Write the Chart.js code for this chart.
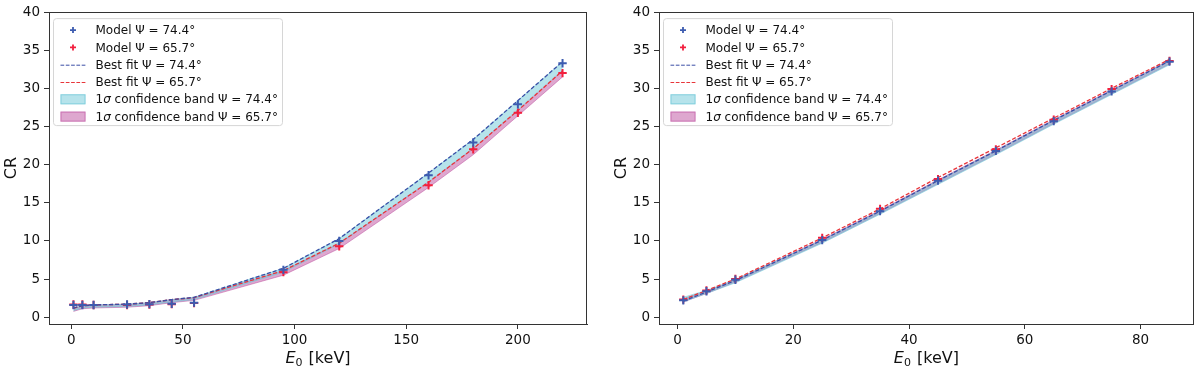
<!DOCTYPE html>
<html>
<head>
<meta charset="utf-8">
<script src="https://cdn.jsdelivr.net/npm/chart.js@4.4.0/dist/chart.umd.min.js"></script>
<style>
  body { margin: 0; background: #fff; }
  .wrap { display: flex; width: 1200px; height: 370px; }
  .panel { position: relative; width: 600px; height: 370px; }
</style>
</head>
<body>
<div class="wrap">
  <div class="panel"><canvas id="leftChart"></canvas></div>
  <div class="panel"><canvas id="rightChart"></canvas></div>
</div>
<script>
// ---- data: left panel ----
const energyLeft = [1, 5, 10, 25, 35, 45, 55, 95, 120, 160, 180, 200, 220];
const modelBlueLeft = [1.6, 1.6, 1.6, 1.65, 1.7, 1.75, 1.9, 6.2, 10.0, 18.6, 22.9, 27.9, 33.3];
const modelRedLeft = [1.65, 1.65, 1.6, 1.6, 1.65, 1.7, 1.85, 5.9, 9.3, 17.3, 22.0, 26.8, 32.0];
const fitBlueLeft = [1.2, 1.5, 1.6, 1.7, 1.9, 2.3, 2.6, 6.4, 10.3, 18.9, 23.3, 28.4, 33.5];
const fitRedLeft = [1.15, 1.5, 1.6, 1.7, 1.9, 2.3, 2.55, 6.1, 9.7, 17.7, 22.1, 27.1, 32.3];
const bandBlueLowLeft = [0.85, 1.2, 1.3, 1.4, 1.6, 2.0, 2.3, 5.9, 9.6, 17.8, 22.1, 27.2, 32.4];
const bandBlueHighLeft = [1.2, 1.5, 1.6, 1.7, 1.9, 2.3, 2.6, 6.4, 10.3, 18.9, 23.3, 28.4, 33.5];
const bandRedLowLeft = [0.75, 1.1, 1.2, 1.3, 1.5, 1.9, 2.2, 5.5, 9.0, 17.0, 21.3, 26.4, 31.5];
const bandRedHighLeft = [1.15, 1.5, 1.6, 1.7, 1.9, 2.3, 2.55, 6.1, 9.7, 17.7, 22.1, 27.1, 32.3];

// ---- data: right panel ----
const energyRight = [1, 5, 10, 25, 35, 45, 55, 65, 75, 85];
const modelBlueRight = [2.2, 3.4, 4.9, 10.1, 13.9, 17.9, 21.8, 25.7, 29.6, 33.5];
const modelRedRight = [2.3, 3.5, 5.0, 10.4, 14.2, 18.1, 22.0, 25.9, 29.9, 33.6];
const fitBlueRight = [2.1, 3.3, 4.8, 10.1, 13.9, 17.9, 21.8, 25.8, 29.7, 33.6];
const fitRedRight = [2.3, 3.5, 5.0, 10.4, 14.2, 18.3, 22.2, 26.1, 30.0, 33.8];
const bandBlueLowRight = [2.0, 3.1, 4.5, 9.7, 13.5, 17.4, 21.3, 25.3, 29.2, 33.1];
const bandBlueHighRight = [2.6, 3.5, 4.9, 10.1, 13.9, 17.9, 21.8, 25.8, 29.7, 33.6];
const bandRedLowRight = [2.0, 3.1, 4.6, 9.8, 13.6, 17.5, 21.4, 25.4, 29.3, 33.2];
const bandRedHighRight = [2.4, 3.4, 4.9, 10.2, 14.0, 18.0, 21.9, 25.9, 29.8, 33.7];

// ---- ticks / labels ----
const yTicks = [0, 5, 10, 15, 20, 25, 30, 35, 40];
const xTicksLeft = [0, 50, 100, 150, 200];
const xTicksRight = [0, 20, 40, 60, 80];
const legendLabels = [
  [{ t: "Model \u03A8 = 74.4\u00B0" }],
  [{ t: "Model \u03A8 = 65.7\u00B0" }],
  [{ t: "Best fit \u03A8 = 74.4\u00B0" }],
  [{ t: "Best fit \u03A8 = 65.7\u00B0" }],
  [{ t: "1" }, { t: "\u03C3", it: true }, { t: " confidence band \u03A8 = 74.4\u00B0" }],
  [{ t: "1" }, { t: "\u03C3", it: true }, { t: " confidence band \u03A8 = 65.7\u00B0" }]
];

const FONT = "'DejaVu Sans', sans-serif";
const blueMark = "#3d5cb0";
const redMark = "#f2203e";
const blueLine = "#3a4ea6";
const redLine = "#e8353a";
const cyanFill = "rgba(110, 200, 215, 0.5)";
const pinkFill = "rgba(190, 80, 160, 0.5)";

function pts(xs, ys) {
  return xs.map((x, i) => ({ x: x, y: ys[i] }));
}

// frame round the plot, like matplotlib spines
const framePlugin = {
  id: "frame",
  afterDraw(chart) {
    const a = chart.chartArea;
    const c = chart.ctx;
    c.save();
    c.strokeStyle = "#333";
    c.lineWidth = 1;
    c.strokeRect(Math.round(a.left) + 0.5, Math.round(a.top) + 0.5,
      Math.round(a.right - a.left) - 1, Math.round(a.bottom - a.top));
    c.restore();
  }
};

// x axis title: E_0 [keV]
const xTitlePlugin = {
  id: "xTitle",
  afterDraw(chart) {
    const a = chart.chartArea;
    const c = chart.ctx;
    c.save();
    c.fillStyle = "#111";
    c.textBaseline = "alphabetic";
    c.textAlign = "left";
    const fE = "italic 16px " + FONT, f0 = "11px " + FONT, fR = "16px " + FONT;
    c.font = fE; const wE = c.measureText("E").width;
    c.font = f0; const w0 = c.measureText("0").width;
    c.font = fR; const wR = c.measureText(" [keV]").width;
    let x = (a.left + a.right) / 2 - (wE + w0 + 1 + wR) / 2;
    const y = 363;
    c.font = fE; c.fillText("E", x, y); x += wE;
    c.font = f0; c.fillText("0", x, y + 3); x += w0 + 1;
    c.font = fR; c.fillText(" [keV]", x, y);
    c.restore();
  }
};

// legend drawn inside the axes, upper left
const legendPlugin = {
  id: "insideLegend",
  afterDraw(chart) {
    const a = chart.chartArea;
    const c = chart.ctx;
    const bx = a.left + 4.5, by = a.top + 6.5, bw = 229, bh = 107;
    const rowH = 17.3;
    c.save();
    // box
    c.beginPath();
    c.roundRect(bx, by, bw, bh, 3);
    c.fillStyle = "rgba(255,255,255,0.85)";
    c.fill();
    c.strokeStyle = "#d6d6d6";
    c.lineWidth = 1;
    c.stroke();
    const kinds = [
      { k: "mark", col: blueMark },
      { k: "mark", col: redMark },
      { k: "dash", col: blueLine },
      { k: "dash", col: redLine },
      { k: "patch", col: cyanFill, edge: "rgba(110, 200, 215, 0.7)" },
      { k: "patch", col: pinkFill, edge: "rgba(190, 80, 160, 0.6)" }
    ];
    kinds.forEach((it, i) => {
      const cy = by + 11.5 + i * rowH;
      const hx = bx + 7, hw = 25;
      if (it.k === "mark") {
        c.strokeStyle = it.col;
        c.lineWidth = 1.8;
        c.beginPath();
        c.moveTo(hx + hw / 2 - 3, cy); c.lineTo(hx + hw / 2 + 3, cy);
        c.moveTo(hx + hw / 2, cy - 3); c.lineTo(hx + hw / 2, cy + 3);
        c.stroke();
      } else if (it.k === "dash") {
        c.strokeStyle = it.col;
        c.lineWidth = 1;
        c.setLineDash([3.7, 1.6]);
        c.beginPath();
        c.moveTo(hx, cy + 0.5); c.lineTo(hx + hw, cy + 0.5);
        c.stroke();
        c.setLineDash([]);
      } else {
        c.fillStyle = it.col;
        c.fillRect(hx, cy - 5, hw, 10);
        c.strokeStyle = it.edge;
        c.lineWidth = 1;
        c.strokeRect(hx + 0.5, cy - 4.5, hw - 1, 9);
      }
      // text
      let tx = bx + 42;
      c.fillStyle = "#111";
      c.textBaseline = "middle";
      c.textAlign = "left";
      legendLabels[i].forEach(p => {
        c.font = (p.it ? "italic " : "") + "12px " + FONT;
        c.fillText(p.t, tx, cy + 1);
        tx += c.measureText(p.t).width;
      });
    });
    c.restore();
  }
};

function makeChart(id, d) {
  const markStyle = (col) => ({
    showLine: false, pointStyle: "cross", pointRadius: 4.2, pointBorderWidth: 2,
    pointBorderColor: col, pointBackgroundColor: col, borderColor: col
  });
  const fitStyle = (col) => ({
    showLine: true, pointRadius: 0, borderColor: col, borderWidth: 1.3,
    borderDash: [4, 2], fill: false, tension: 0
  });
  const bandStyle = (col, fillTo) => ({
    showLine: true, pointRadius: 0, borderColor: col, borderWidth: 1,
    backgroundColor: col, fill: fillTo, tension: 0
  });
  return new Chart(document.getElementById(id), {
    type: "scatter",
    data: {
      datasets: [
        Object.assign({ label: "Model 74.4", data: pts(d.x, d.mBlue) }, markStyle(blueMark)),
        Object.assign({ label: "Model 65.7", data: pts(d.x, d.mRed) }, markStyle(redMark)),
        Object.assign({ label: "Fit 74.4", data: pts(d.x, d.fBlue) }, fitStyle(blueLine)),
        Object.assign({ label: "Fit 65.7", data: pts(d.x, d.fRed) }, fitStyle(redLine)),
        Object.assign({ label: "Band 74.4 low", data: pts(d.x, d.bBlueLo) }, bandStyle(cyanFill, false)),
        Object.assign({ label: "Band 74.4 high", data: pts(d.x, d.bBlueHi) }, bandStyle(cyanFill, "-1")),
        Object.assign({ label: "Band 65.7 low", data: pts(d.x, d.bRedLo) }, bandStyle(pinkFill, false)),
        Object.assign({ label: "Band 65.7 high", data: pts(d.x, d.bRedHi) }, bandStyle(pinkFill, "-1"))
      ]
    },
    options: {
      responsive: false,
      animation: false,
      devicePixelRatio: 1,
      layout: { padding: { top: 6, right: d.padRight, left: d.padLeft, bottom: 0 } },
      plugins: { legend: { display: false }, tooltip: { enabled: false } },
      scales: {
        x: {
          type: "linear",
          min: d.xMin, max: d.xMax,
          afterFit: (s) => { s.height = 46; },
          afterBuildTicks: (s) => { s.ticks = d.xTicks.map(v => ({ value: v })); },
          ticks: { color: "#111", font: { family: FONT, size: 13.5 }, padding: 3 },
          grid: { drawOnChartArea: false, drawTicks: true, tickLength: 5, tickColor: "#333" },
          border: { display: true, color: "#333", width: 1 },
          title: { display: false }
        },
        y: {
          type: "linear",
          min: -0.9, max: 40,
          afterFit: (s) => { s.width = 49; },
          afterBuildTicks: (s) => { s.ticks = yTicks.map(v => ({ value: v })); },
          ticks: { color: "#111", font: { family: FONT, size: 13.5 }, padding: 4 },
          grid: { drawOnChartArea: false, drawTicks: true, tickLength: 5, tickColor: "#333" },
          border: { display: true, color: "#333", width: 1 },
          title: { display: true, text: "CR", color: "#111", font: { family: FONT, size: 16 }, padding: { top: 2, bottom: 0 } }
        }
      }
    },
    plugins: [framePlugin, xTitlePlugin, legendPlugin]
  });
}

["leftChart", "rightChart"].forEach(id => {
  const cv = document.getElementById(id);
  cv.width = 600; cv.height = 370;
  cv.style.width = "600px"; cv.style.height = "370px";
});

makeChart("leftChart", {
  x: energyLeft, mBlue: modelBlueLeft, mRed: modelRedLeft,
  fBlue: fitBlueLeft, fRed: fitRedLeft,
  bBlueLo: bandBlueLowLeft, bBlueHi: bandBlueHighLeft,
  bRedLo: bandRedLowLeft, bRedHi: bandRedHighLeft,
  xMin: -9.95, xMax: 230.95, xTicks: xTicksLeft, padLeft: 0, padRight: 13
});

makeChart("rightChart", {
  x: energyRight, mBlue: modelBlueRight, mRed: modelRedRight,
  fBlue: fitBlueRight, fRed: fitRedRight,
  bBlueLo: bandBlueLowRight, bBlueHi: bandBlueHighRight,
  bRedLo: bandRedLowRight, bRedHi: bandRedHighRight,
  xMin: -3.2, xMax: 89.2, xTicks: xTicksRight, padLeft: 10, padRight: 2
});
</script>
</body>
</html>
